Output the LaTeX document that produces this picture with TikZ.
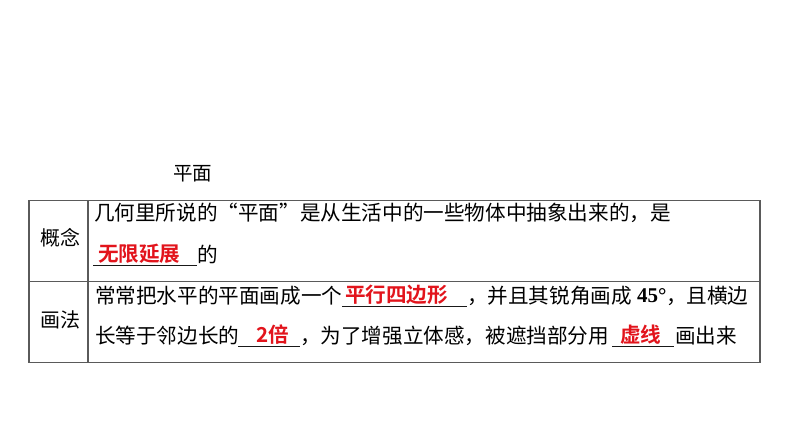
\documentclass[tikz,border=0pt]{standalone}
\usepackage{fontspec}
\setmainfont{Noto Sans CJK SC}
\newfontfamily\cjkfw[RawFeature=+fwid]{Noto Sans CJK SC}
\newfontfamily\cjkbold{Noto Sans CJK SC Bold}
\newfontfamily\timesfont{Liberation Serif}
\definecolor{ansred}{RGB}{226,20,28}
\definecolor{rulegray}{RGB}{90,90,90}
\tikzset{
  txt/.style={anchor=base west,inner sep=0pt,outer sep=0pt,font=\fontsize{20.6}{24}\selectfont},
  ans/.style={txt,text=ansred,font=\fontsize{20.6}{24}\selectfont\cjkbold},
  lab/.style={anchor=base west,inner sep=0pt,outer sep=0pt,font=\fontsize{20}{24}\selectfont},
  tableline/.style={draw=rulegray,line width=1.4pt},
  uline/.style={draw=black!90,line width=1.6pt}
}
\begin{document}
\begin{tikzpicture}[x=1pt,y=-1pt]
\useasboundingbox (0,0) rectangle (794,446);
% title
\node[lab,font=\fontsize{19.5}{24}\selectfont] (title) at (173,181) {平面};
% table
\draw[tableline] (29,200.5) rectangle (760,362.5);
\draw[tableline] (88,200.5) -- (88,362.5);
\draw[tableline] (29,281.5) -- (760,281.5);
% labels
\node[lab] (l1) at (40,245) {概念};
\node[lab] (l2) at (40,327) {画法};
% row 1
\node[txt] (r1a) at (94,221) {几何里所说的{\cjkfw “}平面{\cjkfw ”}是从生活中的一些物体中抽象出来的，是};
\node[ans] (r1b) at (98,261) {无限延展};
\node[txt] (r1c) at (197,262) {的};
\coordinate (u1s) at (93,265.5);
\coordinate (u1e) at (197,265.5);
\draw[uline] (u1s) -- (u1e);
% row 2 line 1
\node[txt] (r2a) at (95,303) {常常把水平的平面画成一个};
\node[ans] (r2b) at (345,302) {平行四边形};
\node[txt] (r2c) at (467,303) {，并且其锐角画成};
\node[txt,font=\fontsize{21}{24}\selectfont\timesfont\bfseries] (r2d) at (637,302.5) {45°};
\node[txt] (r2e) at (666,303) {，且横边};
\coordinate (u2s) at (342,306.5);
\coordinate (u2e) at (467,306.5);
\draw[uline] (u2s) -- (u2e);
% row 2 line 2
\node[txt] (r3a) at (95,343) {长等于邻边长的};
\node[ans] (r3b) at (256,342) {2倍};
\node[txt] (r3c) at (300,343) {，为了增强立体感，被遮挡部分用};
\node[ans] (r3d) at (620,342) {虚线};
\node[txt] (r3e) at (675,343) {画出来};
\coordinate (u3s) at (238,346.5);
\coordinate (u3e) at (300,346.5);
\draw[uline] (u3s) -- (u3e);
\coordinate (u4s) at (612,346.5);
\coordinate (u4e) at (674,346.5);
\draw[uline] (u4s) -- (u4e);
\end{tikzpicture}
\end{document}
